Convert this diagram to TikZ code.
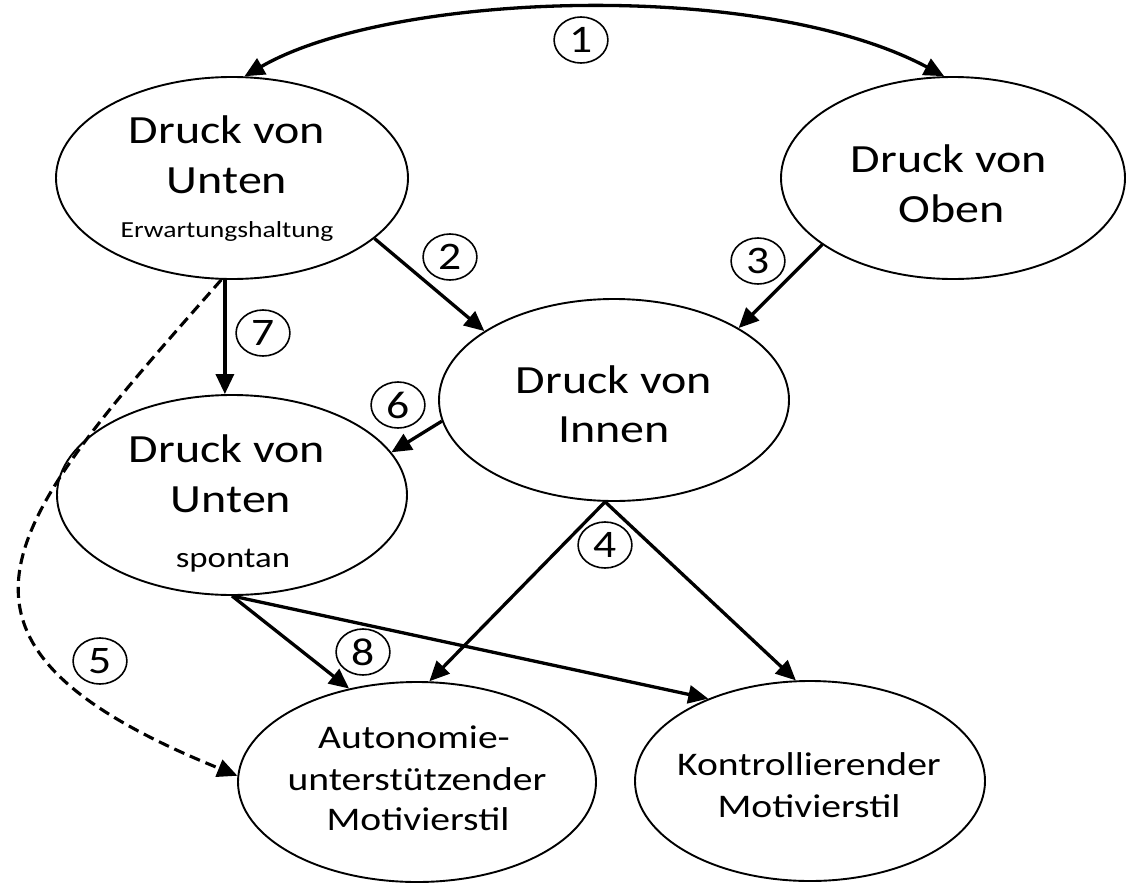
\documentclass[tikz,border=0pt]{standalone}
\usepackage{fontspec}
\setmainfont{Carlito}
\usetikzlibrary{shapes.geometric,arrows.meta}
\begin{document}
\begin{tikzpicture}[x=1pt,y=-1pt,
  bubble/.style={ellipse,draw,line width=1.9pt,inner sep=0pt},
  bigtxt/.style={anchor=base,inner sep=0pt,xscale=1.2,font=\fontsize{40}{48}\selectfont},
  midtxt/.style={anchor=base,inner sep=0pt,xscale=1.2,font=\fontsize{33}{40}\selectfont},
  smalltxt/.style={anchor=base,inner sep=0pt,xscale=1.2,font=\fontsize{23}{28}\selectfont},
  spontxt/.style={anchor=base,inner sep=0pt,xscale=1.2,font=\fontsize{29}{34}\selectfont},
  num/.style={circle,draw,line width=1.6pt,minimum size=46pt,inner sep=0pt,xscale=1.17,font=\fontsize{39}{39}\selectfont},
  tip/.style={Triangle[length=20pt,width=18pt]},
  link/.style={line width=3.3pt,-{Triangle[length=20pt,width=18pt]}},
  dlink/.style={line width=3.1pt,dash pattern=on 11pt off 6pt,-{Triangle[length=20pt,width=18pt]}},
]
\fill[white] (0,0) rectangle (1126,883);
\useasboundingbox (0,0) rectangle (1126,883);

% ellipses
\node[bubble,minimum width=352pt,minimum height=202pt] (e1) at (232,178) {};
\node[bubble,minimum width=344pt,minimum height=202pt] (ob) at (953,178) {};
\node[bubble,minimum width=350pt,minimum height=202pt] (in) at (614,400) {};
\node[bubble,minimum width=350pt,minimum height=200pt] (sp) at (232,495) {};
\node[bubble,minimum width=358pt,minimum height=200pt] (au) at (417,782) {};
\node[bubble,minimum width=350pt,minimum height=200pt] (ko) at (810,781) {};

% texts
\node[bigtxt] (e1a) at (227,143) {Druck von};
\node[bigtxt] (e1b) at (227,193) {Unten};
\node[smalltxt] (e1c) at (227,237) {Erwartungshaltung};

\node[bigtxt] (oba) at (949,172) {Druck von};
\node[bigtxt] (obb) at (952,222) {Oben};

\node[bigtxt] (ina) at (614,393) {Druck von};
\node[bigtxt] (inb) at (614,442) {Innen};

\node[bigtxt] (spa) at (227,462) {Druck von};
\node[bigtxt] (spb) at (231,512) {Unten};
\node[spontxt] (spc) at (233,567) {spontan};

\node[midtxt] (aua) at (414,748) {Autonomie-};
\node[midtxt] (aub) at (417,790) {unterstützender};
\node[midtxt] (auc) at (418,830) {Motivierstil};

\node[midtxt] (koa) at (809,775) {Kontrollierender};
\node[midtxt] (kob) at (809,817) {Motivierstil};

% number marks
\node[num] (n1) at (581,40) {1};
\node[num] (n2) at (450,257) {2};
\node[num] (n3) at (758,261) {3};
\node[num] (n4) at (605,545) {4};
\node[num] (n5) at (100,661) {5};
\node[num] (n6) at (398,405) {6};
\node[num] (n7) at (263,333) {7};
\node[num] (n8) at (363,652) {8};

% connectors
\draw[line width=3.3pt,{Triangle[length=20pt,width=18pt]}-{Triangle[length=20pt,width=18pt]}]
  (e1.83) .. controls (390,-8) and (760,-22) .. (ob.95);
\draw[link] (e1.-23) -- (in.152);
\draw[link] (ob.-153) -- (in.30);
\draw[link] (e1.-94) -- (e1.-94 |- sp.north);
\draw[link] (in.187) -- (sp.15);
\draw[link] (in.-95) -- (au.83);
\draw[link] (in.-95) -- (ko.98);
\draw[link] (sp.south) -- (au.126);
\draw[link] (sp.south) -- (ko.141);
\draw[dlink] (e1.-96) .. controls (7,523) and (-100,639) .. (au.178);
\end{tikzpicture}
\end{document}
